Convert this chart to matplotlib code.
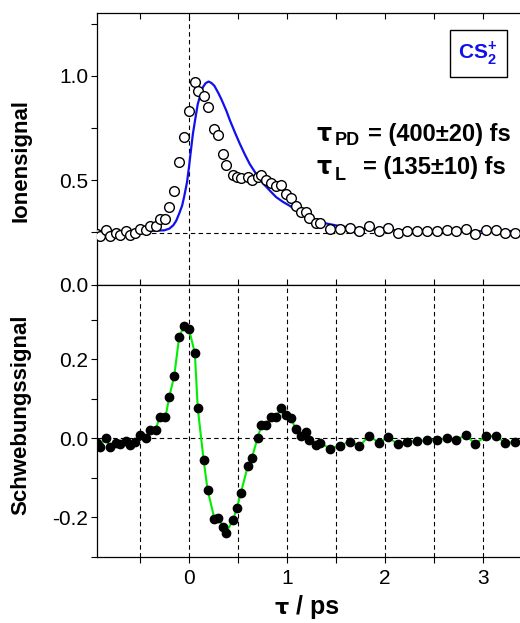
import matplotlib
matplotlib.use('Agg')
import matplotlib.pyplot as plt
from matplotlib.patches import Rectangle
from matplotlib.ticker import MultipleLocator

plt.rcParams['font.family'] = ['Liberation Sans', 'DejaVu Sans']
plt.rcParams['mathtext.fontset'] = 'custom'
plt.rcParams['mathtext.rm'] = 'Liberation Sans'
plt.rcParams['mathtext.bf'] = 'Liberation Sans:bold'

# Verzoegerungszeiten (ps)
tau = [-0.94, -0.91, -0.85, -0.81, -0.75, -0.70, -0.64, -0.60, -0.55, -0.50,
       -0.44, -0.40, -0.34, -0.30, -0.24, -0.20, -0.15, -0.10, -0.05, 0.00,
       0.06, 0.09, 0.15, 0.19, 0.26, 0.30, 0.35, 0.38, 0.45, 0.49,
       0.53, 0.60, 0.64, 0.70, 0.74, 0.79, 0.84, 0.89, 0.94, 0.99,
       1.04, 1.09, 1.14, 1.20, 1.23, 1.30, 1.34, 1.44, 1.54, 1.64,
       1.74, 1.84, 1.94, 2.03, 2.13, 2.23, 2.33, 2.43, 2.53, 2.63,
       2.73, 2.83, 2.92, 3.03, 3.13, 3.23, 3.33]

# Ionensignal (offene Kreise)
ion = [0.244, 0.233, 0.260, 0.233, 0.249, 0.239, 0.255, 0.239, 0.249, 0.267,
       0.260, 0.281, 0.281, 0.313, 0.313, 0.372, 0.446, 0.585, 0.707, 0.830,
       0.970, 0.927, 0.905, 0.850, 0.744, 0.715, 0.626, 0.572, 0.526, 0.516,
       0.510, 0.516, 0.502, 0.514, 0.524, 0.499, 0.489, 0.473, 0.478, 0.435,
       0.416, 0.376, 0.348, 0.349, 0.317, 0.295, 0.295, 0.268, 0.268, 0.273,
       0.255, 0.281, 0.255, 0.270, 0.249, 0.255, 0.255, 0.255, 0.257, 0.260,
       0.257, 0.268, 0.241, 0.260, 0.263, 0.247, 0.246]

# Schwebungssignal (gefuellte Kreise)
beat = [-0.012, -0.022, 0.002, -0.022, -0.011, -0.015, -0.007, -0.017, -0.008, 0.008,
        0.002, 0.022, 0.022, 0.054, 0.054, 0.106, 0.159, 0.257, 0.286, 0.277,
        0.216, 0.076, -0.056, -0.130, -0.204, -0.201, -0.225, -0.239, -0.207, -0.176,
        -0.138, -0.071, -0.051, 0.000, 0.034, 0.034, 0.054, 0.054, 0.078, 0.058,
        0.052, 0.024, 0.005, 0.017, -0.004, -0.017, -0.011, -0.026, -0.019, -0.008,
        -0.019, 0.006, -0.011, 0.003, -0.014, -0.008, -0.007, -0.005, -0.003, 0.000,
        -0.003, 0.008, -0.014, 0.005, 0.006, -0.011, -0.010]

# Fitkurve (blau)
fit_t = [-0.95, -0.40, -0.25, -0.20, -0.16, -0.13, -0.10, -0.07, -0.05, -0.02, 0.00,
         0.02, 0.04, 0.07, 0.09, 0.12, 0.14, 0.17, 0.20, 0.23, 0.26, 0.30, 0.33,
         0.38, 0.42, 0.47, 0.52, 0.57, 0.62, 0.69, 0.76, 0.83, 0.89, 0.96, 1.03,
         1.13, 1.23, 1.33, 1.44, 1.54, 1.64, 1.75, 1.85, 2.0, 2.19, 2.5, 3.0, 3.4]
fit_v = [0.256, 0.257, 0.260, 0.268, 0.284, 0.306, 0.340, 0.378, 0.419, 0.490, 0.562,
         0.643, 0.722, 0.810, 0.865, 0.915, 0.944, 0.965, 0.973, 0.966, 0.952, 0.918, 0.889,
         0.835, 0.785, 0.728, 0.674, 0.624, 0.578, 0.527, 0.483, 0.448, 0.419, 0.396, 0.377,
         0.344, 0.316, 0.300, 0.289, 0.280, 0.273, 0.268, 0.265, 0.262, 0.260, 0.257, 0.256, 0.256]

fig = plt.figure(figsize=(5.2, 6.23), dpi=100)
ax1 = fig.add_axes([0.1856, 0.5433, 0.8144, 0.4353])
ax2 = fig.add_axes([0.1856, 0.1064, 0.8144, 0.4369])

dash = dict(color='black', lw=0.8, ls=(0, (4, 3)), zorder=1)
blau = '#1010ee'

# oberes Bild
ax1.axvline(0, **dash)
ax1.axhline(0.247, **dash)
ax1.plot(fit_t, fit_v, color=blau, lw=1.6, zorder=2)
ax1.plot(tau, ion, 'o', mfc='white', mec='black', mew=1.0, ms=7, ls='none', zorder=3)
ax1.set_ylim(0, 1.3)
ax1.set_yticks([0.0, 0.5, 1.0])
ax1.set_yticklabels(['0.0', '0.5', '1.0'])
ax1.yaxis.set_minor_locator(MultipleLocator(0.25))
ax1.tick_params(axis='x', labelbottom=False)

tx = dict(transform=ax1.transAxes, fontweight='bold', va='baseline')
ax1.text(0.519, 0.529, '\u03c4', family='DejaVu Sans', fontsize=17, **tx)
ax1.text(0.563, 0.514, 'PD', fontsize=13, **tx)
ax1.text(0.641, 0.529, '= (400\u00b120) fs', fontsize=17, **tx)
ax1.text(0.519, 0.4075, '\u03c4', family='DejaVu Sans', fontsize=17, **tx)
ax1.text(0.563, 0.385, 'L', fontsize=13, **tx)
ax1.text(0.629, 0.4075, '= (135\u00b110) fs', fontsize=17, **tx)

ax1.add_patch(Rectangle((0.8347, 0.766), 0.1339, 0.172, transform=ax1.transAxes,
                        fc='white', ec='black', lw=1.0, zorder=4))
ax1.text(0.901, 0.852, r'$\mathbf{CS}_{\mathbf{2}}^{\mathbf{+}}$', transform=ax1.transAxes,
         ha='center', va='center', fontsize=15, color=blau, zorder=5)

# unteres Bild
for xv in [-0.5, 0, 0.5, 1, 1.5, 2, 2.5, 3]:
    ax2.axvline(xv, **dash)
ax2.axhline(0, **dash)
ax2.plot(tau, beat, color='#00ee00', lw=1.5, zorder=2)
ax2.plot(tau, beat, 'o', color='black', ms=6, ls='none', zorder=3)
ax2.set_ylim(-0.3, 0.39)
ax2.set_yticks([-0.2, 0.0, 0.2])
ax2.set_yticklabels(['-0.2', '0.0', '0.2'])
ax2.yaxis.set_minor_locator(MultipleLocator(0.1))

for ax in (ax1, ax2):
    ax.set_xlim(-0.944, 3.38)
    ax.set_xticks([0, 1, 2, 3])
    ax.xaxis.set_minor_locator(MultipleLocator(0.5))
    ax.spines['right'].set_visible(False)
    for s in ('left', 'top', 'bottom'):
        ax.spines[s].set_linewidth(0.9)
    ax.tick_params(axis='y', which='both', direction='out', length=4, width=0.8,
                   labelsize=15, pad=2)
    ax.tick_params(axis='x', which='both', length=4, width=0.8, labelsize=15)

ax1.tick_params(axis='x', which='both', direction='in', top=True)
ax2.tick_params(axis='x', which='both', direction='out', top=False, pad=5)

fig.text(0.040, 0.742, 'Ionensignal', rotation=90, ha='center', va='center',
         fontsize=16, fontweight='bold')
fig.text(0.040, 0.334, 'Schwebungssignal', rotation=90, ha='center', va='center',
         fontsize=16, fontweight='bold')
fig.text(0.527, 0.0145, '\u03c4', ha='left', va='baseline', fontsize=16,
         fontweight='bold', family='DejaVu Sans')
fig.text(0.570, 0.0145, '/ ps', ha='left', va='baseline', fontsize=18,
         fontweight='bold')

fig.savefig('out.png', dpi=100)
